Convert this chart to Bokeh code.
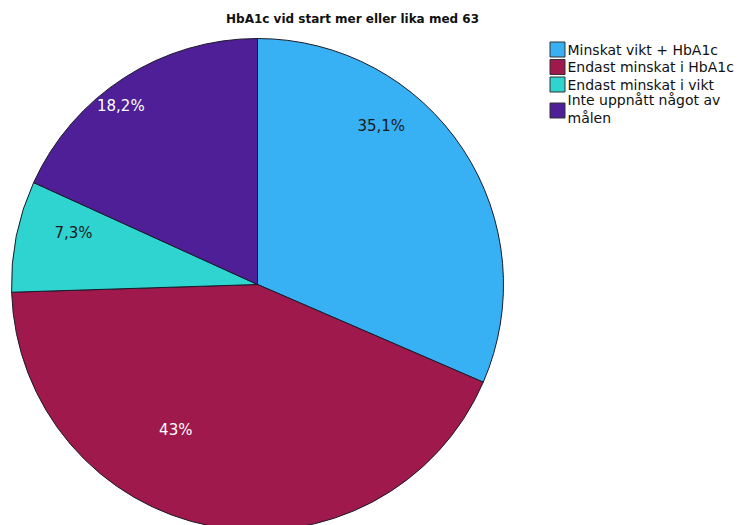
import numpy as np
from bokeh.plotting import figure
from bokeh.models import Range1d
from bokeh.core.properties import value
from bokeh.embed import file_html
from bokeh.resources import INLINE

# ---- data ----
categories = ["Minskat vikt + HbA1c", "Endast minskat i HbA1c", "Endast minskat i vikt", "Inte uppnått något av\nmålen"]
shares = [31.5, 43.0, 7.3, 18.2]          # drawn slice sizes (%)
slice_labels = ["35,1%", "43%", "7,3%", "18,2%"]  # labels as printed in the chart
colors = ["#38B0F4", "#A0194C", "#2FD3CF", "#4E1F96"]
label_colors = ["#1a1a1a", "#ffffff", "#1a1a1a", "#ffffff"]
title_text = "HbA1c vid start mer eller lika med 63"

W, H = 739, 525
p = figure(width=W, height=H, output_backend="svg", toolbar_location=None,
           x_range=Range1d(0, W), y_range=Range1d(0, H), min_border=0,
           outline_line_color=None, background_fill_color="white")
p.axis.visible = False
p.grid.visible = False

cx, cy, R = 257, H - 284, 246
sh = np.array(shares)
cum = np.concatenate([[0], np.cumsum(sh)])
ends = np.deg2rad(90 - cum[:-1] * 3.6)
starts = np.deg2rad(90 - cum[1:] * 3.6)
p.wedge(x=cx, y=cy, radius=R, start_angle=starts, end_angle=ends,
        direction="anticlock", fill_color=colors, line_color="#1b1b2a", line_width=1)

# label placement (polar, degrees / px)
lab_ang = np.deg2rad([52, -119.3, 164.5, 127.4])
lab_rad = np.array([201, 167, 191, 225])
p.text(x=cx + lab_rad * np.cos(lab_ang), y=cy + lab_rad * np.sin(lab_ang), text=slice_labels,
       text_color=label_colors, text_font=value("DejaVu Sans"), text_font_size="15px",
       text_align="center", text_baseline="middle")

# title
p.text(x=[352], y=[H - 18], text=[title_text], text_font=value("DejaVu Sans"),
       text_font_style="bold", text_font_size="12px", text_align="center",
       text_baseline="middle", text_color="#111111")

# legend
sw_y = np.array([49, 66.5, 84, 110])
p.rect(x=557, y=H - sw_y, width=15, height=15, fill_color=colors, line_color="#333333", line_width=1)
txt_y = np.array([49, 66.5, 84, 108.5])
p.text(x=567, y=H - txt_y, text=categories, text_font=value("DejaVu Sans"), text_font_size="14px",
       text_align="left", text_baseline="middle", text_color="#111111", text_line_height=1.1)

open("out.html", "w").write(file_html(p, INLINE))
